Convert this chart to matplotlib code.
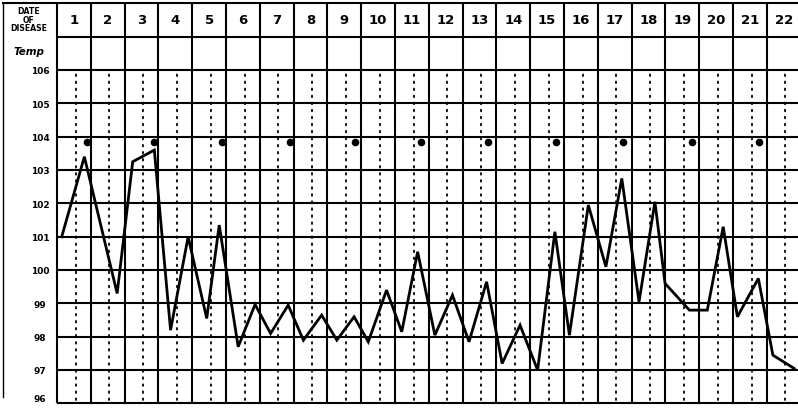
import matplotlib.pyplot as plt
import numpy as np

# clinical temperature chart, readings twice a day
days = list(range(1, 23))
temp_ticks = [106, 105, 104, 103, 102, 101, 100, 99, 98, 97, 96]

# time of reading, in days since start of day 1
times = [0.14, 0.81, 1.78, 2.24, 2.88, 3.36, 3.88, 4.43, 4.80, 5.36,
         5.86, 6.32, 6.84, 7.29, 7.83, 8.28, 8.79, 9.21, 9.75, 10.20,
         10.67, 11.18, 11.70, 12.19, 12.71, 13.17, 13.70, 14.22, 14.73, 15.16,
         15.72, 16.24, 16.71, 17.22, 17.69, 17.99, 18.71, 19.24, 19.71, 20.13,
         20.75, 21.18, 21.81]
temps = [101.0, 103.4, 99.3, 103.25, 103.6, 98.2, 101.0, 98.55, 101.35, 97.7,
         98.97, 98.1, 98.95, 97.9, 98.65, 97.9, 98.6, 97.85, 99.4, 98.15,
         100.55, 98.05, 99.25, 97.85, 99.65, 97.2, 98.35, 97.0, 101.15, 98.05,
         101.95, 100.1, 102.75, 99.05, 102.05, 99.6, 98.8, 98.8, 101.3, 98.6,
         99.75, 97.45, 97.05]

# big dots near the 104 line, every other day
mark_times = [0.89, 2.87, 4.88, 6.89, 8.82, 10.77, 12.75, 14.76, 16.75, 18.79, 20.77]
mark_temp = 103.83

fig = plt.figure(figsize=(7.98, 4.08), dpi=100)
ax = fig.add_axes([0, 0, 1, 1])
ax.set_xlim(-1.686, 21.923)
ax.set_ylim(95.865, 108.1)
ax.axis('off')

lw_grid = 1.5
left = -1.6

# horizontal rules
for t in range(96, 108):
    ax.plot([0, 22], [t, t], color='black', lw=lw_grid, solid_capstyle='butt')
ax.plot([left, 22], [108, 108], color='black', lw=lw_grid)
# vertical rules
for d in range(0, 23):
    ax.plot([d, d], [96, 108], color='black', lw=lw_grid, solid_capstyle='butt')
ax.plot([left, left], [96.2, 108], color='black', lw=1.0)

# dotted guide lines in each day column
for d in range(22):
    ax.plot([d + 0.55, d + 0.55], [96.1, 105.9], color='black', lw=1.3,
            linestyle=(0, (0.9, 3.0)), dash_capstyle='round')

# header
ax.text(left / 2 - 0.03, 107.5, 'DATE\nOF\nDISEASE', ha='center', va='center',
        fontsize=5.6, fontweight='bold', linespacing=0.9)
for d in days:
    ax.text(d - 0.5, 107.5, str(d), ha='center', va='center',
            fontsize=9.5, fontweight='bold')
ax.text(left / 2 - 0.03, 106.55, 'Temp', ha='center', va='center',
        fontsize=7.5, fontweight='bold', fontstyle='italic')
for t in temp_ticks:
    ax.text(-0.5, max(t - 0.05, 96.12), str(t), ha='center', va='center',
            fontsize=6.5, fontweight='bold')

# temperature curve
ax.plot(times, temps, color='black', lw=2.0, solid_joinstyle='miter')
ax.scatter(mark_times, [mark_temp] * len(mark_times), s=20, color='black', zorder=3)

fig.savefig('out.png', dpi=100, facecolor='white')
